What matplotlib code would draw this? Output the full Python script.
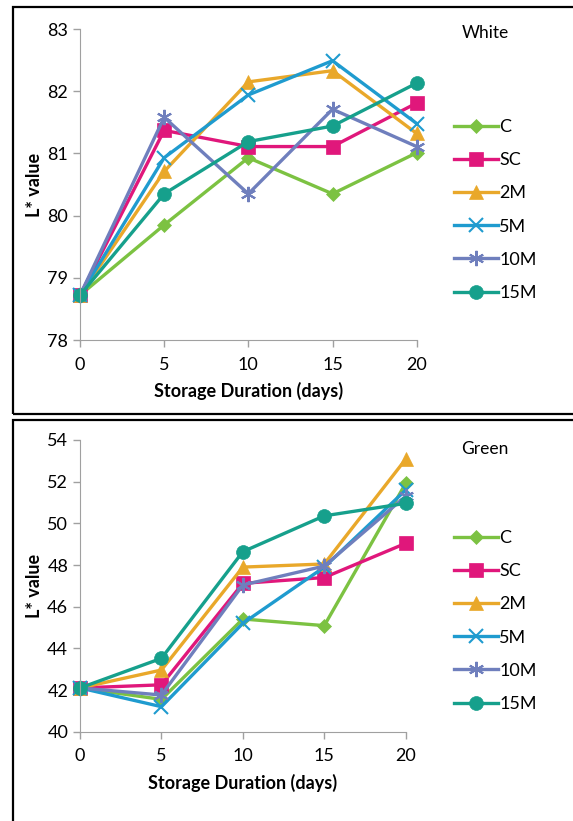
import matplotlib.pyplot as plt
from matplotlib.patches import Rectangle

days = [0, 5, 10, 15, 20]
labels = ["C", "SC", "2M", "5M", "10M", "15M"]

white_C = [78.72, 79.85, 80.93, 80.35, 81.01]
white_SC = [78.72, 81.37, 81.11, 81.11, 81.81]
white_2M = [78.72, 80.71, 82.15, 82.33, 81.32]
white_5M = [78.72, 80.93, 81.94, 82.49, 81.48]
white_10M = [78.72, 81.58, 80.35, 81.71, 81.11]
white_15M = [78.72, 80.35, 81.19, 81.44, 82.13]

green_C = [42.1, 41.55, 45.41, 45.09, 51.92]
green_SC = [42.1, 42.25, 47.12, 47.4, 49.04]
green_2M = [42.1, 42.96, 47.9, 48.05, 53.08]
green_5M = [42.1, 41.2, 45.2, 47.9, 51.6]
green_10M = [42.1, 41.76, 47.04, 47.95, 51.3]
green_15M = [42.1, 43.52, 48.64, 50.36, 50.96]

colors = ["#7cc242", "#e0177b", "#e9a82a", "#1f9bcf", "#6f7fbd", "#16a08c"]
markers = ["D", "s", "^", "x", (6, 2, 0), "o"]
msizes = [7, 10, 10, 10, 11, 10]

plt.rcParams["font.family"] = ["Lato", "DejaVu Sans"]

fig = plt.figure(figsize=(5.73, 8.21), dpi=100)

# frames around the two panels
fig.patches.append(Rectangle((13 / 573, 1 - 414 / 821), 1.0, 407 / 821,
                             transform=fig.transFigure, fill=False, lw=1.6, ec="black"))
fig.patches.append(Rectangle((13 / 573, -0.05), 1.0, 0.05 + 1 - 420 / 821,
                             transform=fig.transFigure, fill=False, lw=1.6, ec="black"))


def panel(ax, series, ylim, yticks):
    for vals, lab, c, m, ms in zip(series, labels, colors, markers, msizes):
        thin = m == "x" or isinstance(m, tuple)
        ax.plot(days, vals, color=c, marker=m, markersize=ms, lw=2.4, label=lab,
                markeredgewidth=1.5 if thin else 0.5, clip_on=False)
    ax.set_xlim(0, 20)
    ax.set_ylim(*ylim)
    ax.set_xticks(days)
    ax.set_yticks(yticks)
    for s in ["top", "right"]:
        ax.spines[s].set_visible(False)
    for s in ["left", "bottom"]:
        ax.spines[s].set_color("#a0a0a0")
    ax.tick_params(color="#a0a0a0", labelsize=13, length=5, width=1)
    ax.tick_params(axis="x", pad=7)
    ax.set_xlabel("Storage Duration (days)", fontsize=13, fontweight="bold", labelpad=7)
    ax.set_ylabel("L* value", fontsize=13, fontweight="bold", labelpad=3)
    ax.patch.set_alpha(0)
    return ax


ax1 = fig.add_axes([80 / 573, 1 - 340 / 821, 336.7 / 573, 311 / 821])
panel(ax1, [white_C, white_SC, white_2M, white_5M, white_10M, white_15M],
      (78, 83), [78, 79, 80, 81, 82, 83])
fig.text(485 / 573, 1 - 33 / 821, "White", fontsize=12.5, ha="center", va="center")
ax1.legend(loc="center left", bbox_to_anchor=(438 / 573, 1 - 210 / 821),
           bbox_transform=fig.transFigure, frameon=False, fontsize=13,
           handlelength=2.4, handletextpad=0.1, labelspacing=0.95)

ax2 = fig.add_axes([80 / 573, 1 - 731.7 / 821, 325.7 / 573, 291.7 / 821])
panel(ax2, [green_C, green_SC, green_2M, green_5M, green_10M, green_15M],
      (40, 54), [40, 42, 44, 46, 48, 50, 52, 54])
fig.text(485 / 573, 1 - 449 / 821, "Green", fontsize=12.5, ha="center", va="center")
ax2.legend(loc="center left", bbox_to_anchor=(438 / 573, 1 - 621 / 821),
           bbox_transform=fig.transFigure, frameon=False, fontsize=13,
           handlelength=2.4, handletextpad=0.1, labelspacing=0.95)

fig.savefig("out.png", dpi=100)
